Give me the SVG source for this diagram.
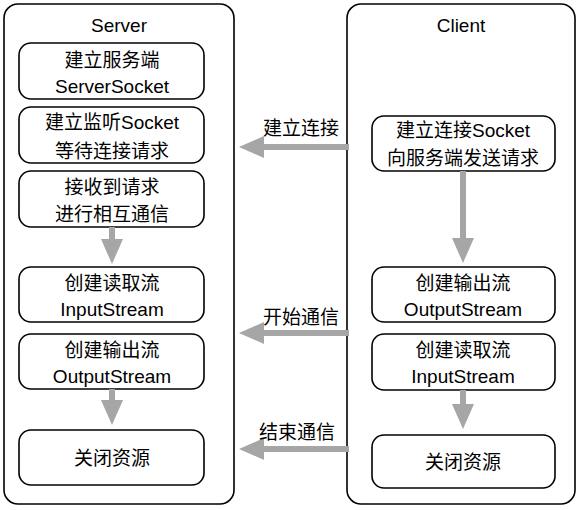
<svg xmlns="http://www.w3.org/2000/svg" width="580" height="510" viewBox="0 0 580 510">
<defs>
<style>
.cont{fill:#fff;stroke:#000;stroke-width:1.6}
.node{fill:#fff;stroke:#000;stroke-width:1.6}
text{font-family:"Liberation Sans","Noto Sans CJK SC",sans-serif;font-size:19px;fill:#000;text-anchor:middle}
.conn line{stroke:#a6a6a6;stroke-width:6}
</style>
<marker id="ah" markerUnits="userSpaceOnUse" markerWidth="25" markerHeight="22" viewBox="0 0 25 22" refX="1" refY="11" orient="auto">
<path d="M0,0 L25,11 L0,22 z" fill="#a6a6a6"/>
</marker>
</defs>
<rect width="580" height="510" fill="#fff"/>
<g id="server">
<rect class="cont" x="4" y="4" width="230" height="500" rx="14"/>
<text x="119" y="32">Server</text>
</g>
<g id="client">
<rect class="cont" x="347" y="4" width="228" height="500" rx="14"/>
<text x="461" y="32">Client</text>
</g>
<g id="s1"><rect class="node" x="19" y="43" width="185" height="56" rx="12"/><text x="112" y="67">建立服务端</text><text x="112" y="93">ServerSocket</text></g>
<g id="s2"><rect class="node" x="19" y="107" width="185" height="56" rx="12"/><text x="112" y="129">建立监听Socket</text><text x="112" y="158">等待连接请求</text></g>
<g id="s3"><rect class="node" x="19" y="171" width="185" height="56" rx="12"/><text x="112" y="194">接收到请求</text><text x="112" y="221">进行相互通信</text></g>
<g id="s4"><rect class="node" x="19" y="267" width="185" height="55" rx="12"/><text x="112" y="290">创建读取流</text><text x="112" y="316">InputStream</text></g>
<g id="s5"><rect class="node" x="19" y="334" width="185" height="55" rx="12"/><text x="112" y="357">创建输出流</text><text x="112" y="383">OutputStream</text></g>
<g id="s6"><rect class="node" x="19" y="430" width="185" height="55" rx="12"/><text x="112" y="465">关闭资源</text></g>
<g id="c1"><rect class="node" x="372" y="116" width="183" height="55" rx="12"/><text x="463" y="137">建立连接Socket</text><text x="463" y="165">向服务端发送请求</text></g>
<g id="c2"><rect class="node" x="372" y="267" width="183" height="55" rx="12"/><text x="463" y="290">创建输出流</text><text x="463" y="316">OutputStream</text></g>
<g id="c3"><rect class="node" x="372" y="334" width="183" height="56" rx="12"/><text x="463" y="357">创建读取流</text><text x="463" y="383">InputStream</text></g>
<g id="c4"><rect class="node" x="372" y="435" width="183" height="53" rx="12"/><text x="463" y="469">关闭资源</text></g>
<g id="connectors" class="conn">
<line x1="112" y1="227" x2="112" y2="240" marker-end="url(#ah)"/>
<line x1="112" y1="389" x2="112" y2="401" marker-end="url(#ah)"/>
<line x1="463" y1="171" x2="463" y2="239" marker-end="url(#ah)"/>
<line x1="463" y1="390" x2="463" y2="405" marker-end="url(#ah)"/>
<line x1="349" y1="147" x2="263" y2="147" marker-end="url(#ah)"/>
<line x1="349" y1="333" x2="263" y2="333" marker-end="url(#ah)"/>
<line x1="349" y1="449" x2="263" y2="449" marker-end="url(#ah)"/>
<text x="301" y="135">建立连接</text>
<text x="301" y="324">开始通信</text>
<text x="297" y="439">结束通信</text>
</g>
</svg>
